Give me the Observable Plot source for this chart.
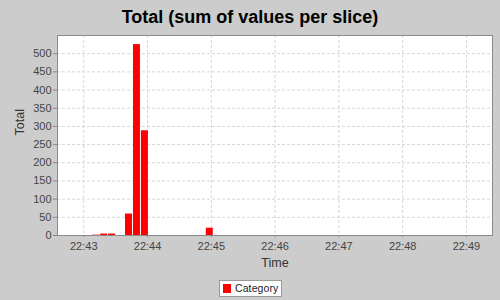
<!DOCTYPE html>
<html>
<head>
<meta charset="utf-8">
<script src="https://cdn.jsdelivr.net/npm/d3@7"></script>
<script src="https://cdn.jsdelivr.net/npm/@observablehq/plot@0.6"></script>
<style>
  html, body { margin: 0; padding: 0; background: #cccccc; }
  #wrap { position: relative; width: 500px; height: 300px; background: #cccccc; font-family: "Liberation Sans", Arial, sans-serif; overflow: hidden; }
  #title { position: absolute; left: 0; top: 8px; width: 500px; text-align: center; font-weight: bold; font-size: 18px; line-height: 18px; color: #000; }
  #chart { position: absolute; left: 0; top: 30px; }
  #legend { position: absolute; left: 219px; top: 280px; width: 61px; height: 15px; border: 1px solid #999; background: #fff; box-sizing: content-box; }
  #legend .sw { position: absolute; left: 3px; top: 3px; width: 8px; height: 9px; background: #ff0000; }
  #legend .lb { position: absolute; left: 15px; top: 1px; font-size: 10.5px; line-height: 13px; color: #222; letter-spacing: 0.1px; }
</style>
</head>
<body>
<div id="wrap">
  <div id="title">Total (sum of values per slice)</div>
  <div id="chart"></div>
  <div id="legend"><div class="sw"></div><div class="lb">Category</div></div>
</div>
<script>
// Data
const sliceStart = ["22:43:07.9", "22:43:15.4", "22:43:22.9", "22:43:38.8", "22:43:46.3", "22:43:53.8", "22:44:54.8"];
const sliceTotal = [1, 4, 4, 59, 525, 288, 20];
const sliceSeconds = 7.5;
const xTickLabels = ["22:43", "22:44", "22:45", "22:46", "22:47", "22:48", "22:49"];
const yTicks = [0, 50, 100, 150, 200, 250, 300, 350, 400, 450, 500];
const xDomain = ["22:42:35.3", "22:49:24.5"];
const yDomain = [0, 550];

function toDate(s) {
  const [h, m, sec] = s.split(":");
  return new Date(Date.UTC(2010, 0, 1, +h, +m, 0) + (+(sec || 0)) * 1000);
}

const data = sliceStart.map((s, i) => {
  const start = toDate(s);
  return { start, end: new Date(+start + sliceSeconds * 1000), total: sliceTotal[i] };
});
const xTicks = xTickLabels.map(toDate);

const chart = Plot.plot({
  width: 500,
  height: 245,
  marginTop: 5,
  marginBottom: 40,
  marginLeft: 57,
  marginRight: 8,
  style: { background: "transparent", fontFamily: "Liberation Sans, Arial, sans-serif", overflow: "visible" },
  x: { type: "utc", domain: xDomain.map(toDate) },
  y: { domain: yDomain },
  marks: [
    Plot.frame({ fill: "#ffffff" }),
    Plot.gridX(xTicks, { stroke: "#d6d6d6", strokeOpacity: 1, strokeDasharray: "3,2" }),
    Plot.gridY(yTicks, { stroke: "#d6d6d6", strokeOpacity: 1, strokeDasharray: "3,2" }),
    Plot.rectY(data, { x1: "start", x2: "end", y: "total", fill: "#ff0000", insetLeft: 0.5, insetRight: 0.5 }),
    Plot.frame({ stroke: "#8a8a8a" }),
    Plot.axisX(xTicks, { tickFormat: d3.utcFormat("%H:%M"), tickSize: 2, tickPadding: 5, fontSize: 11, color: "#444", stroke: "#888", label: null }),
    Plot.axisY(yTicks, { tickSize: 4, tickPadding: 2, fontSize: 11, color: "#444", stroke: "#888", label: null }),
    Plot.text(["Time"], { frameAnchor: "bottom", dy: 27, lineAnchor: "middle", fontSize: 12.5, fill: "#333" }),
    Plot.text(["Total"], { frameAnchor: "left", dx: -37.5, rotate: -90, lineAnchor: "middle", fontSize: 12.5, fill: "#333" })
  ]
});
document.getElementById("chart").appendChild(chart);
</script>
</body>
</html>
